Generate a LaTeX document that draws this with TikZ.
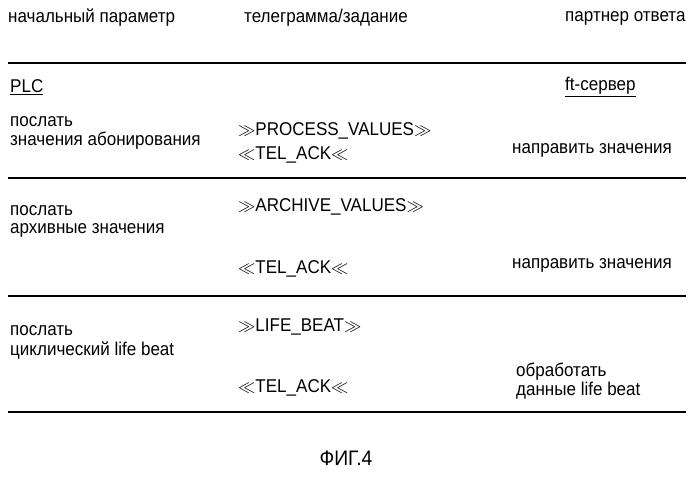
\documentclass[tikz,border=0pt]{standalone}
\usepackage{fontspec}
\setmainfont{Liberation Sans}[FakeStretch=0.92]
\begin{document}
\begin{tikzpicture}[x=1pt,y=-1pt,
  t/.style={anchor=west,inner sep=0pt,font=\fontsize{18.5}{20}\selectfont,align=left},
  rule/.style={line width=1.8pt}]
\useasboundingbox (0,0) rectangle (692,500);
\node[t] (h1) at (8,18) {начальный параметр};
\node[t] (h2) at (244,18) {телеграмма/задание};
\node[t] (h3) at (565,18) {партнер ответа};
\draw[rule] (8,63) -- (686,63);
\node[t] (plc) at (10,87) {\underline{PLC}};
\node[t] (ft) at (565,87) {\underline{ft-сервер}};
\node[t] (a1) at (10,122) {послать};
\node[t] (a2) at (10,141) {значения абонирования};
\node[t] (pv) at (238,131) {$\gg$PROCESS\_VALUES$\gg$};
\node[t] (n1) at (512,150) {направить значения};
\node[t] (k1) at (238,155) {$\ll$TEL\_ACK$\ll$};
\draw[rule] (8,178) -- (686,178);
\node[t] (b1) at (10,211) {послать};
\node[t] (b2) at (10,230) {архивные значения};
\node[t] (av) at (238,207) {$\gg$ARCHIVE\_VALUES$\gg$};
\node[t] (n2) at (512,265) {направить значения};
\node[t] (k2) at (238,269) {$\ll$TEL\_ACK$\ll$};
\draw[rule] (8,296) -- (686,296);
\node[t] (c1) at (10,331) {послать};
\node[t] (c2) at (10,350) {циклический life beat};
\node[t] (lb) at (238,327) {$\gg$LIFE\_BEAT$\gg$};
\node[t] (o1) at (516,372) {обработать};
\node[t] (o2) at (516,391) {данные life beat};
\node[t] (k3) at (238,388) {$\ll$TEL\_ACK$\ll$};
\draw[rule] (8,412) -- (686,412);
\node[inner sep=0pt,font=\fontsize{21}{23}\selectfont] (fig) at (346,458) {ФИГ.4};
\end{tikzpicture}
\end{document}
